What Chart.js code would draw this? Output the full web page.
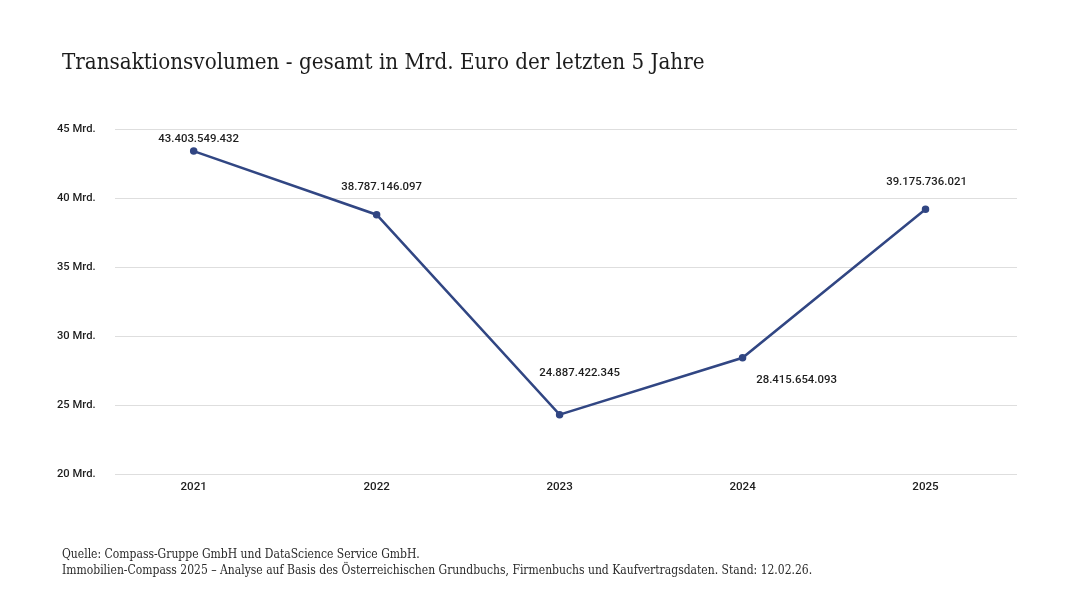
<!DOCTYPE html>
<html>
<head>
<meta charset="utf-8">
<script src="https://cdn.jsdelivr.net/npm/chart.js@4/dist/chart.umd.min.js"></script>
<style>
  body { margin: 0; background: #fff; }
  #wrap { position: relative; width: 1080px; height: 607px; overflow: hidden; }
  #chart { position: absolute; left: 0; top: 0; }
  #title {
    position: absolute; left: 62px; top: 50px; margin: 0;
    font: 22.2px "DejaVu Serif Condensed", "DejaVu Serif", serif;
    line-height: 22px; color: #1c1c1c; font-weight: normal; white-space: nowrap;
  }
  #source {
    position: absolute; left: 62px; top: 546px;
    font: 12px "DejaVu Serif Condensed", "DejaVu Serif", serif;
    line-height: 16px; color: #2a2a2a; white-space: nowrap;
  }
</style>
</head>
<body>
<div id="wrap">
  <canvas id="chart" width="1080" height="607"></canvas>
  <h1 id="title">Transaktionsvolumen - gesamt in Mrd. Euro der letzten 5 Jahre</h1>
  <div id="source">
    Quelle: Compass-Gruppe GmbH und DataScience Service GmbH.<br>
    Immobilien-Compass 2025 – Analyse auf Basis des Österreichischen Grundbuchs, Firmenbuchs und Kaufvertragsdaten. Stand: 12.02.26.
  </div>
</div>
<script>
// data (Mrd. Euro)
const years = ['2021', '2022', '2023', '2024', '2025'];
const volumes = [43.40, 38.79, 24.30, 28.42, 39.18];
const valueLabels = ['43.403.549.432', '38.787.146.097', '24.887.422.345', '28.415.654.093', '39.175.736.021'];
const yTicks = [20, 25, 30, 35, 40, 45];

const lineColor = '#314683';
const textColor = '#1e1e1e';

// where each value label sits relative to its point (px)
const labelOffsets = [[5, -12], [5, -28], [20, -42], [54, 22], [1, -27]];

const valueLabelPlugin = {
    id: 'valueLabels',
    afterDatasetsDraw(chart) {
        const ctx = chart.ctx;
        const meta = chart.getDatasetMeta(0);
        ctx.save();
        ctx.font = '500 11.4px Roboto';
        ctx.fillStyle = textColor;
        ctx.textAlign = 'center';
        ctx.textBaseline = 'middle';
        meta.data.forEach((pt, i) => {
            const off = labelOffsets[i];
            ctx.fillText(valueLabels[i], pt.x + off[0], pt.y + off[1]);
        });
        ctx.restore();
    }
};

new Chart(document.getElementById('chart').getContext('2d'), {
    type: 'line',
    data: {
        datasets: [{
            data: volumes.map((v, i) => ({ x: i, y: v })),
            borderColor: lineColor,
            backgroundColor: lineColor,
            borderWidth: 2.5,
            pointRadius: 2.5,
            pointHoverRadius: 2.5,
            tension: 0,
        }],
    },
    options: {
        responsive: false,
        animation: false,
        events: [],
        layout: { padding: { left: 57, right: 63, top: 129, bottom: 103 } },
        plugins: {
            legend: { display: false },
            tooltip: { enabled: false },
        },
        scales: {
            x: {
                type: 'linear',
                min: -0.43,
                max: 4.5,
                grid: { display: false, drawTicks: false },
                border: { display: false },
                afterBuildTicks(scale) {
                    scale.ticks = years.map((y, i) => ({ value: i }));
                },
                afterFit(scale) { scale.height = 30; },
                ticks: {
                    padding: 6,
                    color: textColor,
                    font: { family: 'Roboto', size: 11.6, weight: '500' },
                    callback: (v) => years[v],
                },
            },
            y: {
                min: 20,
                max: 45,
                grid: { color: '#dedede', lineWidth: 1, drawTicks: false },
                border: { display: false },
                afterBuildTicks(scale) {
                    scale.ticks = yTicks.map(v => ({ value: v }));
                },
                afterFit(scale) { scale.width = 58; },
                ticks: {
                    crossAlign: 'far',
                    padding: 0,
                    color: textColor,
                    font: { family: 'Roboto', size: 11.2, weight: '500' },
                    callback: (v) => v + ' Mrd.',
                },
            },
        },
    },
    plugins: [valueLabelPlugin],
});
</script>
</body>
</html>
